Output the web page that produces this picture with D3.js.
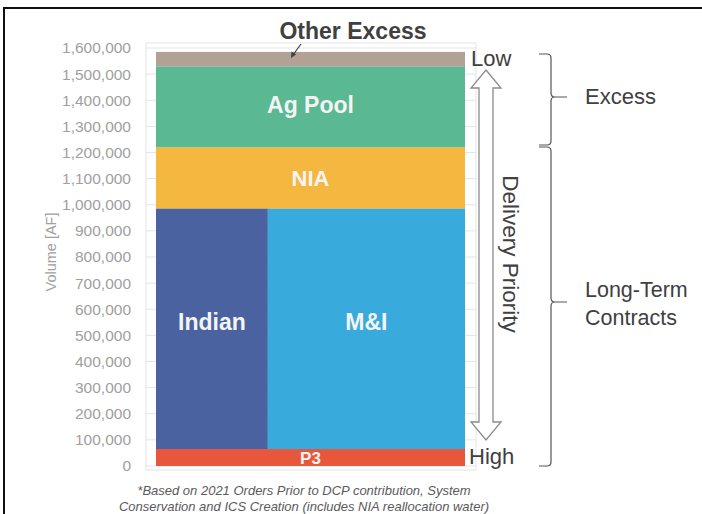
<!DOCTYPE html>
<html>
<head>
<meta charset="utf-8">
<script src="https://cdn.jsdelivr.net/npm/d3@7"></script>
<style>
  body { margin: 0; background: #fff; }
  text { font-family: Arial, "Liberation Sans", sans-serif; }
</style>
</head>
<body>
<div class="chart"></div>
<script>
const w = 702;
const h = 514;

// stacked bands, bottom to top
const bands = ["P3", "Long-term", "NIA", "Ag Pool", "Other Excess"];
const volumes = [65000, 920000, 235000, 310000, 55000];
const bandColors = ["#e8573b", "#4a62a0", "#f4b73f", "#5ab893", "#b2a194"];
const bandLabels = ["P3", "", "NIA", "Ag Pool", ""];

// the long-term band split side by side
const splitNames = ["Indian", "M&I"];
const splitShare = [0.362, 0.638];
const splitColors = ["#4a62a0", "#38aadb"];

const yTicks = d3.range(0, 1600001, 100000);

const footnote = [
  "*Based on 2021 Orders Prior to DCP contribution, System",
  "Conservation and ICS Creation (includes NIA reallocation water)"
];

const y = d3.scaleLinear().domain([0, 1600000]).range([466, 48]);
const x = d3.scaleLinear().domain([0, 1]).range([156, 465]);

const svg = d3.select(".chart").append("svg")
  .attr("width", w)
  .attr("height", h);

// outer frame
svg.append("rect")
  .attr("x", 4).attr("y", 8)
  .attr("width", 720).attr("height", 540)
  .attr("fill", "none")
  .attr("stroke", "#111")
  .attr("stroke-width", 2);

// plot frame + grid
svg.append("rect")
  .attr("x", 146).attr("y", 43)
  .attr("width", 330).attr("height", 427)
  .attr("fill", "none")
  .attr("stroke", "#e4e4e4");

svg.append("g")
  .selectAll("line")
  .data(yTicks)
  .enter().append("line")
    .attr("x1", 146).attr("x2", 476)
    .attr("y1", d => y(d)).attr("y2", d => y(d))
    .attr("stroke", "#e4e4e4");

const yAxis = svg.append("g")
  .attr("transform", "translate(131,0)")
  .call(d3.axisLeft(y).tickValues(yTicks).tickSize(0).tickFormat(d3.format(",")));
yAxis.select(".domain").remove();
yAxis.selectAll("text")
  .attr("x", 0)
  .attr("fill", "#a0a0a0")
  .style("font-size", "15.5px");

svg.append("text")
  .attr("transform", "translate(56,252) rotate(-90)")
  .attr("text-anchor", "middle")
  .attr("fill", "#a0a0a0")
  .style("font-size", "14.5px")
  .text("Volume [AF]");

// stacked bands
const cum = d3.cumsum(volumes);
const stack = bands.map((b, i) => ({
  name: b, lo: i ? cum[i - 1] : 0, hi: cum[i], color: bandColors[i], label: bandLabels[i]
}));

svg.append("g")
  .selectAll("rect")
  .data(stack.filter(d => d.name !== "Long-term"))
  .enter().append("rect")
    .attr("x", x(0))
    .attr("width", x(1) - x(0))
    .attr("y", d => y(d.hi))
    .attr("height", d => y(d.lo) - y(d.hi))
    .attr("fill", d => d.color);

const lt = stack[1];
const splitCum = d3.cumsum(splitShare);
const split = splitNames.map((n, i) => ({
  name: n, x0: i ? splitCum[i - 1] : 0, x1: splitCum[i], color: splitColors[i]
}));

svg.append("g")
  .selectAll("rect")
  .data(split)
  .enter().append("rect")
    .attr("x", d => x(d.x0))
    .attr("width", d => x(d.x1) - x(d.x0))
    .attr("y", y(lt.hi))
    .attr("height", y(lt.lo) - y(lt.hi))
    .attr("fill", d => d.color);

// labels in bars
svg.append("g")
  .selectAll("text")
  .data(stack.filter(d => d.label))
  .enter().append("text")
    .attr("x", x(0.5))
    .attr("y", d => (y(d.lo) + y(d.hi)) / 2 - (d.name === "Ag Pool" ? 2 : 0))
    .attr("dy", "0.36em")
    .attr("text-anchor", "middle")
    .attr("fill", "#f4f4f4")
    .style("font-weight", "bold")
    .style("font-size", d => d.name === "P3" ? "17px" : d.name === "NIA" ? "22px" : "23px")
    .text(d => d.label);

svg.append("g")
  .selectAll("text")
  .data(split)
  .enter().append("text")
    .attr("x", d => x((d.x0 + d.x1) / 2))
    .attr("y", (y(lt.lo) + y(lt.hi)) / 2 - 7)
    .attr("dy", "0.36em")
    .attr("text-anchor", "middle")
    .attr("fill", "#f4f4f4")
    .style("font-weight", "bold")
    .style("font-size", "23px")
    .text(d => d.name);

// "Other Excess" callout
svg.append("text")
  .attr("x", 353).attr("y", 39)
  .attr("text-anchor", "middle")
  .attr("fill", "#404040")
  .style("font-weight", "bold")
  .style("font-size", "23px")
  .text("Other Excess");

svg.append("line")
  .attr("x1", 301).attr("y1", 44)
  .attr("x2", 293).attr("y2", 55)
  .attr("stroke", "#404040")
  .attr("stroke-width", 1.2);
svg.append("path")
  .attr("d", "M291,58 L291.5,51.5 L296,54.5 Z")
  .attr("fill", "#404040");

// Low / High
svg.append("text")
  .attr("x", 471).attr("y", 66)
  .attr("fill", "#404040")
  .style("font-size", "22px")
  .text("Low");
svg.append("text")
  .attr("x", 469).attr("y", 464)
  .attr("fill", "#404040")
  .style("font-size", "22px")
  .text("High");

// double outline arrow
const ax = 486, arrTop = 70, arrBot = 440, hw = 15, sw = 7, hh = 18;
const arrowPts = [
  [ax, arrTop], [ax + hw, arrTop + hh], [ax + sw, arrTop + hh], [ax + sw, arrBot - hh],
  [ax + hw, arrBot - hh], [ax, arrBot], [ax - hw, arrBot - hh], [ax - sw, arrBot - hh],
  [ax - sw, arrTop + hh], [ax - hw, arrTop + hh]
];
svg.append("path")
  .attr("d", d3.line()(arrowPts) + "Z")
  .attr("fill", "#fff")
  .attr("stroke", "#8a8a8a")
  .attr("stroke-width", 1.3);

svg.append("text")
  .attr("transform", "translate(503,254) rotate(90)")
  .attr("text-anchor", "middle")
  .attr("fill", "#404040")
  .style("font-size", "22.5px")
  .text("Delivery Priority");

// braces
function brace(y0, y1, ym) {
  const xa = 539, xb = 551, xt = 567, r = 4;
  return `M${xa},${y0} L${xb - r},${y0} Q${xb},${y0} ${xb},${y0 + r}` +
    ` L${xb},${ym - r} Q${xb},${ym} ${xb + r},${ym} L${xt},${ym}` +
    ` M${xb + r},${ym} Q${xb},${ym} ${xb},${ym + r}` +
    ` L${xb},${y1 - r} Q${xb},${y1} ${xb - r},${y1} L${xa},${y1}`;
}
svg.append("path")
  .attr("d", brace(54, 145, 97))
  .attr("fill", "none").attr("stroke", "#555").attr("stroke-width", 1.2);
svg.append("path")
  .attr("d", brace(147, 466, 302))
  .attr("fill", "none").attr("stroke", "#555").attr("stroke-width", 1.2);

svg.append("text")
  .attr("x", 585).attr("y", 104)
  .attr("fill", "#404040")
  .style("font-size", "22px")
  .text("Excess");
svg.append("text")
  .attr("x", 585).attr("y", 297)
  .attr("fill", "#404040")
  .style("font-size", "21.5px")
  .text("Long-Term");
svg.append("text")
  .attr("x", 585).attr("y", 325)
  .attr("fill", "#404040")
  .style("font-size", "21.5px")
  .text("Contracts");

// footnote
svg.append("g")
  .selectAll("text")
  .data(footnote)
  .enter().append("text")
    .attr("x", 304)
    .attr("y", (d, i) => 495 + i * 16)
    .attr("text-anchor", "middle")
    .attr("fill", "#5a5a5a")
    .style("font-style", "italic")
    .style("font-size", "13px")
    .text(d => d);
</script>
</body>
</html>
